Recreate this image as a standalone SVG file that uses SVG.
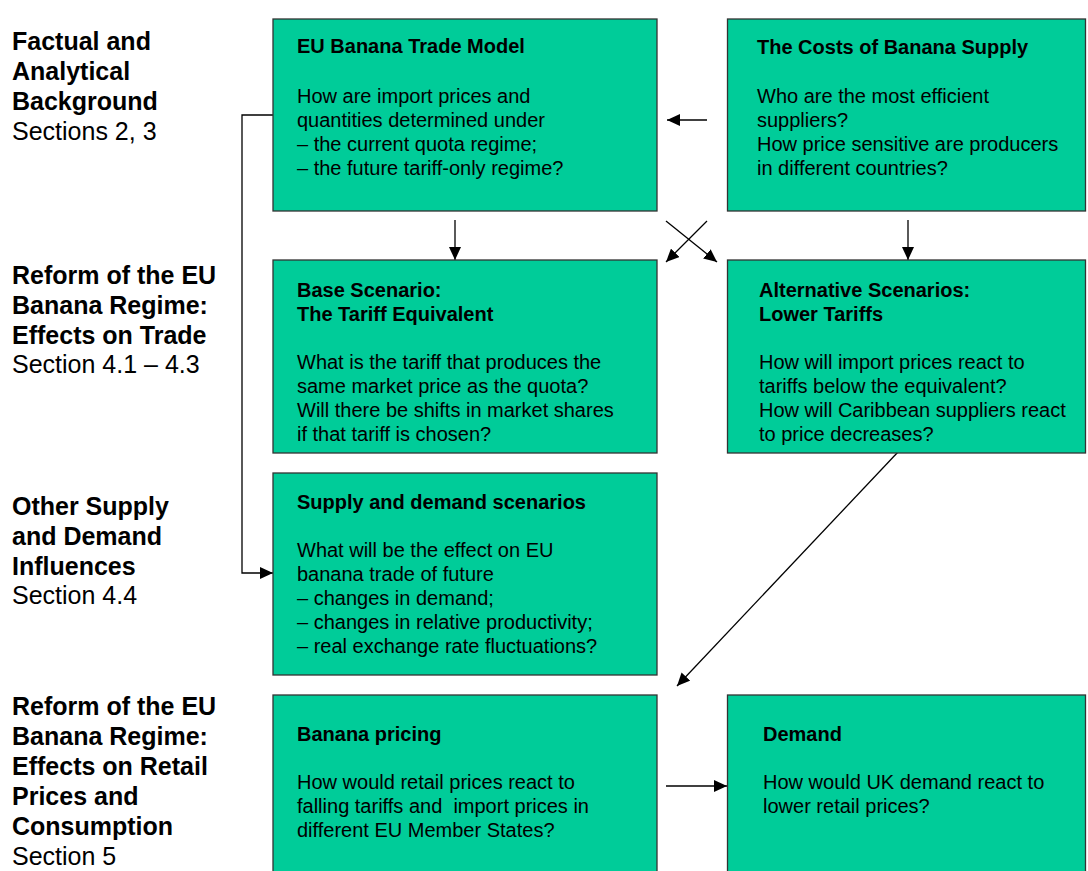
<svg xmlns="http://www.w3.org/2000/svg" width="1088" height="871" viewBox="0 0 1088 871">
<defs>
<marker id="ah" markerWidth="13" markerHeight="12" refX="13" refY="6" orient="auto" markerUnits="userSpaceOnUse">
<path d="M0,0 L13,6 L0,12 Z" fill="#000"/>
</marker>
<style>
.box{fill:#00CC99;stroke:#333;stroke-width:1.3}
.t{font-family:"Liberation Sans",Arial,sans-serif;font-size:20px;font-weight:bold;fill:#000}
.b{font-family:"Liberation Sans",Arial,sans-serif;font-size:20px;fill:#000}
.lh{font-family:"Liberation Sans",Arial,sans-serif;font-size:25px;font-weight:bold;fill:#000}
.ls{font-family:"Liberation Sans",Arial,sans-serif;font-size:25px;fill:#000}
.c{fill:none;stroke:#000;stroke-width:1.3}
</style>
</defs>
<rect width="1088" height="871" fill="#fff"/>

<g id="labels">
<text class="lh" x="12" y="50">Factual and</text>
<text class="lh" x="12" y="80">Analytical</text>
<text class="lh" x="12" y="110">Background</text>
<text class="ls" x="12" y="140">Sections 2, 3</text>

<text class="lh" x="12" y="284">Reform of the EU</text>
<text class="lh" x="12" y="314">Banana Regime:</text>
<text class="lh" x="12" y="344">Effects on Trade</text>
<text class="ls" x="12" y="373">Section 4.1 – 4.3</text>

<text class="lh" x="12" y="515">Other Supply</text>
<text class="lh" x="12" y="545">and Demand</text>
<text class="lh" x="12" y="575">Influences</text>
<text class="ls" x="12" y="604">Section 4.4</text>

<text class="lh" x="12" y="715">Reform of the EU</text>
<text class="lh" x="12" y="745">Banana Regime:</text>
<text class="lh" x="12" y="775">Effects on Retail</text>
<text class="lh" x="12" y="805">Prices and</text>
<text class="lh" x="12" y="835">Consumption</text>
<text class="ls" x="12" y="865">Section 5</text>
</g>

<g id="connectors">
<line class="c" x1="455" y1="220" x2="455" y2="260" marker-end="url(#ah)"/>
<line class="c" x1="908" y1="220" x2="908" y2="260" marker-end="url(#ah)"/>
<line class="c" x1="666" y1="221" x2="717" y2="262" marker-end="url(#ah)"/>
<line class="c" x1="707" y1="221" x2="666" y2="262" marker-end="url(#ah)"/>
<line class="c" x1="707" y1="120" x2="667" y2="120" marker-end="url(#ah)"/>
<polyline class="c" points="273,115 242,115 242,573 273,573" marker-end="url(#ah)"/>
<line class="c" x1="898" y1="452" x2="677" y2="686" marker-end="url(#ah)"/>
<line class="c" x1="666" y1="786" x2="727" y2="786" marker-end="url(#ah)"/>
</g>

<g id="n-trade-model">
<rect class="box" x="273" y="19" width="384" height="192"/>
<text class="t" x="297" y="53">EU Banana Trade Model</text>
<text class="b" x="297" y="103">How are import prices and</text>
<text class="b" x="297" y="127">quantities determined under</text>
<text class="b" x="297" y="151">– the current quota regime;</text>
<text class="b" x="297" y="175">– the future tariff-only regime?</text>
</g>

<g id="n-costs">
<rect class="box" x="727.5" y="19" width="358" height="192"/>
<text class="t" x="757" y="54">The Costs of Banana Supply</text>
<text class="b" x="757" y="103">Who are the most efficient</text>
<text class="b" x="757" y="127">suppliers?</text>
<text class="b" x="757" y="151">How price sensitive are producers</text>
<text class="b" x="757" y="175">in different countries?</text>
</g>

<g id="n-base">
<rect class="box" x="273" y="260" width="384" height="193"/>
<text class="t" x="297" y="297">Base Scenario:</text>
<text class="t" x="297" y="321">The Tariff Equivalent</text>
<text class="b" x="297" y="369">What is the tariff that produces the</text>
<text class="b" x="297" y="393">same market price as the quota?</text>
<text class="b" x="297" y="417">Will there be shifts in market shares</text>
<text class="b" x="297" y="441">if that tariff is chosen?</text>
</g>

<g id="n-alt">
<rect class="box" x="727.5" y="260" width="358" height="193"/>
<text class="t" x="759" y="297">Alternative Scenarios:</text>
<text class="t" x="759" y="321">Lower Tariffs</text>
<text class="b" x="759" y="369">How will import prices react to</text>
<text class="b" x="759" y="393">tariffs below the equivalent?</text>
<text class="b" x="759" y="417">How will Caribbean suppliers react</text>
<text class="b" x="759" y="441">to price decreases?</text>
</g>

<g id="n-supply-demand">
<rect class="box" x="273" y="473" width="384" height="202"/>
<text class="t" x="297" y="509">Supply and demand scenarios</text>
<text class="b" x="297" y="557">What will be the effect on EU</text>
<text class="b" x="297" y="581">banana trade of future</text>
<text class="b" x="297" y="605">– changes in demand;</text>
<text class="b" x="297" y="629">– changes in relative productivity;</text>
<text class="b" x="297" y="653">– real exchange rate fluctuations?</text>
</g>

<g id="n-pricing">
<rect class="box" x="273" y="695" width="384" height="190"/>
<text class="t" x="297" y="741">Banana pricing</text>
<text class="b" x="297" y="789">How would retail prices react to</text>
<text class="b" x="297" y="813" xml:space="preserve">falling tariffs and  import prices in</text>
<text class="b" x="297" y="837">different EU Member States?</text>
</g>

<g id="n-demand">
<rect class="box" x="727.5" y="695" width="358" height="190"/>
<text class="t" x="763" y="741">Demand</text>
<text class="b" x="763" y="789">How would UK demand react to</text>
<text class="b" x="763" y="813">lower retail prices?</text>
</g>
</svg>
